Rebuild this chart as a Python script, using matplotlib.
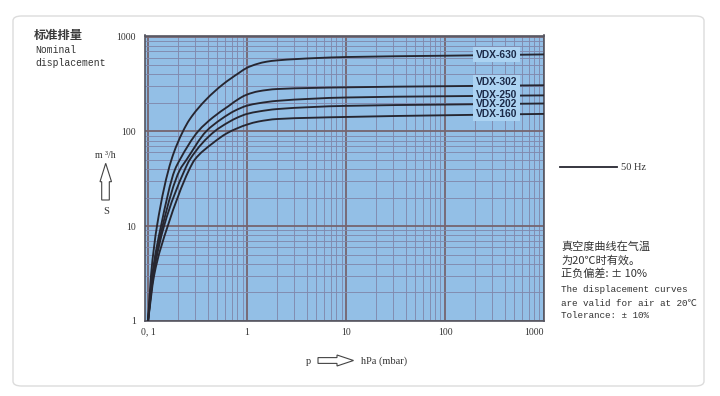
import matplotlib
matplotlib.use("Agg")
import numpy as np
import matplotlib.pyplot as plt
from matplotlib.patches import Polygon, FancyBboxPatch, PathPatch
from matplotlib.path import Path
from matplotlib.ticker import LogLocator, NullFormatter, FixedLocator

# ---------------- data ----------------
x_630 = [0.1, 0.107, 0.123, 0.172, 0.225, 0.262, 0.386, 0.566, 0.83, 1.0, 1.26, 1.58, 2, 5, 10, 100, 1000]
y_630 = [1, 3, 10, 50, 100, 133, 217, 312, 415, 470, 515, 545, 562, 595, 610, 630, 650]

x_302 = [0.1, 0.11, 0.135, 0.186, 0.209, 0.32, 0.45, 0.65, 0.85, 1.0, 1.3, 2, 10, 100, 1000]
y_302 = [1, 3, 10, 39, 50, 100, 140, 185, 225, 245, 265, 280, 292, 300, 307]

x_250 = [0.1, 0.112, 0.14, 0.209, 0.244, 0.386, 0.55, 0.75, 1.0, 1.3, 2, 10, 100, 1000]
y_250 = [1, 3, 10, 39, 50, 100, 135, 165, 187, 198, 210, 228, 235, 240]

x_202 = [0.1, 0.113, 0.145, 0.234, 0.263, 0.47, 0.65, 0.8, 1.0, 1.3, 2, 10, 100, 1000]
y_202 = [1, 3, 10, 39, 50, 100, 125, 140, 153, 162, 172, 186, 192, 197]

x_160 = [0.1, 0.115, 0.158, 0.259, 0.295, 0.45, 0.62, 0.8, 1.0, 1.3, 2, 10, 100, 1000]
y_160 = [1, 3, 10, 39, 50, 75, 95, 108, 118, 127, 135, 142, 148, 153]

series_names = ["VDX-630", "VDX-302", "VDX-250", "VDX-202", "VDX-160"]
label_y = [648, 330, 245, 196, 154]
label_x = 330

x_ticks = [0.1, 1, 10, 100, 1000]
x_tick_labels = ["0, 1", "1", "10", "100", "1000"]
y_ticks = [1, 10, 100, 1000]
y_tick_labels = ["1", "10", "100", "1000"]

W, H = 720, 396


def fx(px):
    return px / W


def fy(py):
    return 1 - py / H


def smooth_path(xv, yv):
    """Monotone cubic (Fritsch-Carlson) through the points in log-log space,
    expressed as Bezier segments so matplotlib draws it smoothly."""
    lx = np.log10(np.asarray(xv, float))
    ly = np.log10(np.asarray(yv, float))
    h = np.diff(lx)
    d = np.diff(ly) / h
    n = len(lx)
    m = np.zeros(n)
    m[0], m[-1] = d[0], d[-1]
    for k in range(1, n - 1):
        if d[k - 1] * d[k] <= 0:
            m[k] = 0
        else:
            w1 = 2 * h[k] + h[k - 1]
            w2 = h[k] + 2 * h[k - 1]
            m[k] = (w1 + w2) / (w1 / d[k - 1] + w2 / d[k])
    verts = [(lx[0], ly[0])]
    codes = [Path.MOVETO]
    for k in range(n - 1):
        verts += [(lx[k] + h[k] / 3, ly[k] + m[k] * h[k] / 3),
                  (lx[k + 1] - h[k] / 3, ly[k + 1] - m[k + 1] * h[k] / 3),
                  (lx[k + 1], ly[k + 1])]
        codes += [Path.CURVE4] * 3
    verts = 10 ** np.asarray(verts)
    return Path(verts, codes)


fig = plt.figure(figsize=(7.2, 3.96), dpi=100, facecolor="white")

# card outline
card = FancyBboxPatch((fx(13), fy(386)), fx(704) - fx(13), fy(16) - fy(386),
                      boxstyle="round,pad=0,rounding_size=0.012",
                      transform=fig.transFigure, facecolor="white",
                      edgecolor="#dcdcdc", linewidth=1.0, zorder=-5)
fig.patches.append(card)

ax = fig.add_axes([fx(144.5), fy(320.7), fx(544) - fx(144.5), fy(35.5) - fy(320.7)])
ax.set_zorder(2)
ax.set_facecolor("#93bfe6")
ax.set_xscale("log")
ax.set_yscale("log")
ax.set_xlim(0.092, 1000)
ax.set_ylim(1, 1030)

ax.xaxis.set_major_locator(FixedLocator(x_ticks))
ax.yaxis.set_major_locator(FixedLocator(y_ticks))
ax.xaxis.set_minor_locator(LogLocator(base=10, subs=range(2, 10), numticks=20))
ax.yaxis.set_minor_locator(LogLocator(base=10, subs=range(2, 10), numticks=20))
ax.xaxis.set_minor_formatter(NullFormatter())
ax.yaxis.set_minor_formatter(NullFormatter())
ax.set_xticklabels(x_tick_labels, fontfamily="Liberation Serif", fontsize=7, color="#333333")
ax.set_yticklabels(y_tick_labels, fontfamily="Liberation Serif", fontsize=7, color="#333333")
xl = ax.get_xticklabels()
xl[-1].set_ha("right")
ax.tick_params(which="both", length=0)
ax.tick_params(axis="x", pad=5)
ax.tick_params(axis="y", pad=6)

ax.grid(which="minor", color="#8189ad", linewidth=0.65)
ax.grid(which="major", color="#76656f", linewidth=1.3)
ax.set_axisbelow(True)
for s in ax.spines.values():
    s.set_color("#555560")
    s.set_linewidth(1.2)

xs = [x_630, x_302, x_250, x_202, x_160]
ys = [y_630, y_302, y_250, y_202, y_160]
for xv, yv in zip(xs, ys):
    ax.add_patch(PathPatch(smooth_path(xv, yv), fill=False, edgecolor="#262630",
                           linewidth=1.35, zorder=3, capstyle="round"))

# label boxes (behind), then label text (on top) so stacked labels don't hide each other
for name, ly in zip(series_names, label_y):
    ax.text(label_x, ly, name, ha="center", va="center", fontsize=7.4,
            fontweight="bold", fontfamily="Liberation Sans", color=(0, 0, 0, 0), zorder=4,
            bbox=dict(boxstyle="square,pad=0.25", facecolor="#acd3f2", edgecolor="none"))
for name, ly in zip(series_names, label_y):
    ax.text(label_x, ly, name, ha="center", va="center", fontsize=7.4,
            fontweight="bold", fontfamily="Liberation Sans", color="#1c2a48", zorder=6)

# ---------------- outside texts ----------------
txtc = "#333333"
fig.text(fx(34), fy(35), "标准排量", fontsize=8.8, fontweight="bold",
         fontfamily=["Noto Sans CJK SC", "DejaVu Sans"], color="#3a3a3a", va="center", ha="left")
fig.text(fx(35), fy(50), "Nominal", fontsize=7, fontfamily="Liberation Mono",
         color=txtc, va="center", ha="left")
fig.text(fx(35), fy(63), "displacement", fontsize=7, fontfamily="Liberation Mono",
         color=txtc, va="center", ha="left")

fig.text(fx(105), fy(155), "m ³/h", fontsize=7, fontfamily="Liberation Serif",
         color=txtc, va="center", ha="center")
up = Polygon([(fx(101.7), fy(200)), (fx(109.3), fy(200)), (fx(109.3), fy(181.7)),
              (fx(111.5), fy(181.7)), (fx(105.7), fy(163.3)), (fx(100), fy(181.7)),
              (fx(101.7), fy(181.7))], closed=True, transform=fig.transFigure,
             facecolor="white", edgecolor="#444444", linewidth=0.8)
fig.patches.append(up)
fig.text(fx(106), fy(211), "S", fontsize=7.5, fontfamily="Liberation Serif",
         color=txtc, va="center", ha="center")

fig.text(fx(308), fy(361), "p", fontsize=7.5, fontfamily="Liberation Serif",
         color=txtc, va="center", ha="center")
right = Polygon([(fx(318), fy(357.6)), (fx(337), fy(357.6)), (fx(337), fy(355)),
                 (fx(353.5), fy(360.5)), (fx(337), fy(366)), (fx(337), fy(363.4)),
                 (fx(318), fy(363.4))], closed=True, transform=fig.transFigure,
                facecolor="white", edgecolor="#444444", linewidth=0.8)
fig.patches.append(right)
fig.text(fx(361), fy(361), "hPa (mbar)", fontsize=7.5, fontfamily="Liberation Serif",
         color=txtc, va="center", ha="left")

# legend
fig.add_artist(plt.Line2D([fx(560), fx(617)], [fy(167), fy(167)], transform=fig.transFigure,
                          color="#262630", linewidth=1.3))
fig.text(fx(621), fy(167), "50 Hz", fontsize=7.5, fontfamily="Liberation Serif",
         color=txtc, va="center", ha="left")

cjk = ["Noto Sans CJK SC", "DejaVu Sans"]
fig.text(fx(561), fy(247), "真空度曲线在气温", fontsize=8, fontfamily=cjk, color=txtc, va="center", ha="left")
fig.text(fx(561), fy(260), "为20℃时有效。", fontsize=8, fontfamily=cjk, color=txtc, va="center", ha="left")
fig.text(fx(561), fy(274), "正负偏差: ± 10%", fontsize=8, fontfamily=cjk, color=txtc, va="center", ha="left")
mono = ["Liberation Mono", "Noto Sans CJK SC"]
fig.text(fx(561), fy(290), "The displacement curves", fontsize=6.7, fontfamily=mono, color=txtc, va="center", ha="left")
fig.text(fx(561), fy(303), "are valid for air at 20℃", fontsize=6.7, fontfamily=mono, color=txtc, va="center", ha="left")
fig.text(fx(561), fy(316), "Tolerance: ± 10%", fontsize=6.7, fontfamily=mono, color=txtc, va="center", ha="left")

fig.savefig("out.png", dpi=100, facecolor="white")
